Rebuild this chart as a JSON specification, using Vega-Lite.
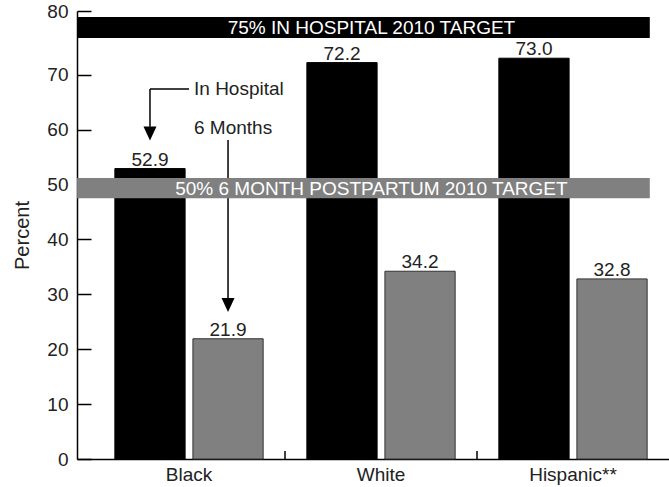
{
  "$schema": "https://vega.github.io/schema/vega-lite/v6.json",
  "width": 592,
  "height": 448,
  "autosize": {"type": "none"},
  "padding": {"left": 77, "top": 11, "right": 0, "bottom": 28},
  "background": "white",
  "config": {
    "view": {"stroke": null},
    "font": "Liberation Sans",
    "text": {"font": "Liberation Sans"}
  },
  "datasets": {
    "bars": [
      {"group": "Black", "measure": "In Hospital", "value": 52.9},
      {"group": "Black", "measure": "6 Months", "value": 21.9},
      {"group": "White", "measure": "In Hospital", "value": 72.2},
      {"group": "White", "measure": "6 Months", "value": 34.2},
      {"group": "Hispanic**", "measure": "In Hospital", "value": 73.0},
      {"group": "Hispanic**", "measure": "6 Months", "value": 32.8}
    ],
    "targets": [
      {"label": "75% IN HOSPITAL 2010 TARGET", "lo": 76.7, "hi": 80.5, "kind": "hospital"},
      {"label": "50% 6 MONTH POSTPARTUM 2010 TARGET", "lo": 47.5, "hi": 51.2, "kind": "postpartum"}
    ],
    "arrows": [
      {"group": "Black", "measure": "In Hospital", "top": 67.4, "bottom": 60.5, "head": 59.3},
      {"group": "Black", "measure": "6 Months", "top": 58.1, "bottom": 29.3, "head": 28.05}
    ],
    "leader": [
      {"group": "Black", "measure": "In Hospital", "end": "Black", "y": 67.4}
    ],
    "notes": [
      {"group": "Black", "text": "In Hospital", "y": 67.4},
      {"group": "Black", "text": "6 Months", "y": 60.2}
    ],
    "xticks": [
      {"group": "White"},
      {"group": "Hispanic**"}
    ]
  },
  "layer": [
    {
      "data": {"name": "bars"},
      "mark": {"type": "bar", "strokeWidth": 1},
      "encoding": {
        "x": {
          "field": "group", "type": "nominal", "title": null,
          "scale": {"domain": ["Black", "White", "Hispanic**"], "paddingInner": 0, "paddingOuter": 0.0417, "align": 1},
          "axis": {"title": null, "labelFontSize": 19, "labelColor": "#222", "ticks": false, "domainColor": "#000", "domainWidth": 1.5, "labelPadding": 6, "labelAngle": 0}
        },
        "xOffset": {
          "field": "measure", "type": "nominal",
          "scale": {"domain": ["In Hospital", "6 Months"], "paddingInner": 0.1, "paddingOuter": 0.28}
        },
        "y": {
          "field": "value", "type": "quantitative", "title": "Percent",
          "scale": {"domain": [0, 81.6], "nice": false},
          "axis": {"title": "Percent", "titleFontSize": 20, "titleFontWeight": "normal", "titleColor": "#222", "titlePadding": 14,
                   "values": [0, 10, 20, 30, 40, 50, 60, 70, 81.6], "labelExpr": "datum.value > 80 ? '80' : datum.label",
                   "labelFontSize": 19, "labelColor": "#222", "tickSize": -14, "tickColor": "#000", "tickWidth": 1.5,
                   "domainColor": "#000", "domainWidth": 1.5, "grid": false, "labelPadding": 23}
        },
        "color": {"field": "measure", "type": "nominal", "scale": {"domain": ["In Hospital", "6 Months"], "range": ["#000000", "#808080"]}, "legend": null},
        "stroke": {"field": "measure", "type": "nominal", "scale": {"domain": ["In Hospital", "6 Months"], "range": ["#000000", "#333333"]}, "legend": null}
      }
    },
    {
      "data": {"name": "arrows"},
      "mark": {"type": "rule", "color": "#000", "strokeWidth": 1.5},
      "encoding": {
        "x": {"field": "group", "type": "nominal", "title": null},
        "xOffset": {"field": "measure", "type": "nominal"},
        "y": {"field": "top", "type": "quantitative", "title": "Percent"},
        "y2": {"field": "bottom"}
      }
    },
    {
      "data": {"name": "arrows"},
      "mark": {"type": "point", "shape": "M-0.93,-1L0.93,-1L0,1Z", "filled": true, "color": "#000", "size": 196, "opacity": 1},
      "encoding": {
        "x": {"field": "group", "type": "nominal", "title": null},
        "xOffset": {"field": "measure", "type": "nominal"},
        "y": {"field": "head", "type": "quantitative", "title": "Percent"}
      }
    },
    {
      "data": {"name": "leader"},
      "mark": {"type": "rule", "color": "#000", "strokeWidth": 1.5},
      "encoding": {
        "x": {"field": "group", "type": "nominal", "title": null},
        "xOffset": {"field": "measure", "type": "nominal"},
        "x2": {"field": "end"},
        "y": {"field": "y", "type": "quantitative", "title": "Percent"}
      }
    },
    {
      "data": {"name": "notes"},
      "mark": {"type": "text", "align": "left", "baseline": "middle", "dx": 5, "fontSize": 19, "color": "#222"},
      "encoding": {
        "x": {"field": "group", "type": "nominal", "title": null},
        "y": {"field": "y", "type": "quantitative", "title": "Percent"},
        "text": {"field": "text"}
      }
    },
    {
      "data": {"name": "targets"},
      "mark": {"type": "rect"},
      "encoding": {
        "x": {"datum": "Black", "type": "nominal", "bandPosition": -0.083},
        "x2": {"datum": "Hispanic**", "bandPosition": 0.9},
        "y": {"field": "lo", "type": "quantitative", "title": "Percent"},
        "y2": {"field": "hi"},
        "color": {"field": "kind", "type": "nominal", "scale": {"domain": ["hospital", "postpartum"], "range": ["#000000", "#7f7f7f"]}, "legend": null}
      }
    },
    {
      "data": {"name": "targets"},
      "transform": [{"calculate": "(datum.lo + datum.hi) / 2", "as": "mid"}],
      "mark": {"type": "text", "align": "center", "baseline": "middle", "fontSize": 19, "color": "#ffffff", "dy": 1},
      "encoding": {
        "x": {"datum": "White", "type": "nominal", "bandPosition": 0.45},
        "y": {"field": "mid", "type": "quantitative", "title": "Percent"},
        "text": {"field": "label"}
      }
    },
    {
      "data": {"name": "bars"},
      "mark": {"type": "text", "align": "center", "baseline": "alphabetic", "dy": -3, "fontSize": 19, "color": "#222"},
      "encoding": {
        "x": {"field": "group", "type": "nominal", "title": null},
        "xOffset": {"field": "measure", "type": "nominal"},
        "y": {"field": "value", "type": "quantitative", "title": "Percent"},
        "text": {"field": "value", "type": "quantitative", "format": ".1f"}
      }
    },
    {
      "data": {"name": "xticks"},
      "mark": {"type": "rule", "color": "#000", "strokeWidth": 1.5},
      "encoding": {
        "x": {"field": "group", "type": "nominal", "bandPosition": 0, "title": null},
        "y": {"datum": 0, "type": "quantitative", "title": "Percent"},
        "y2": {"datum": 1.46}
      }
    }
  ]
}
